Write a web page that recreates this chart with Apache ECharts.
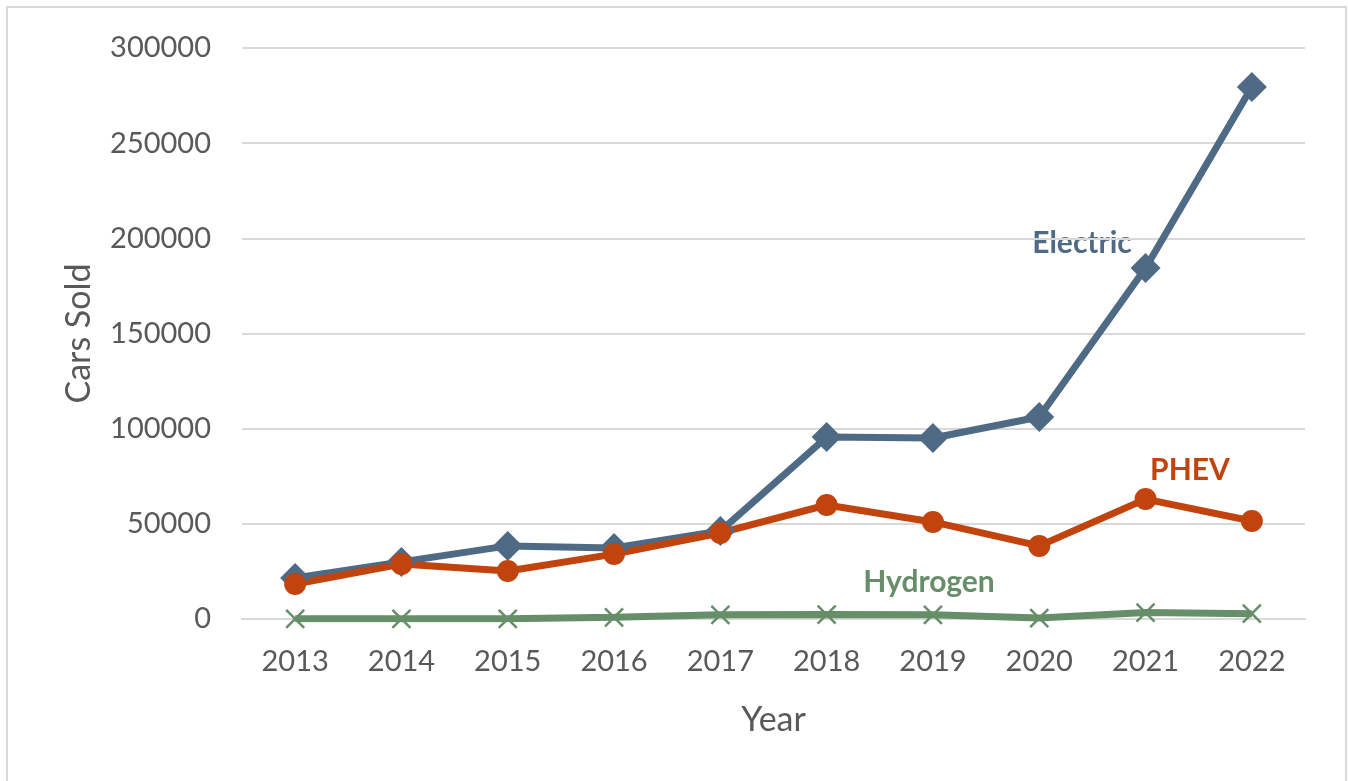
<!DOCTYPE html>
<html>
<head>
<meta charset="utf-8">
<script src="https://cdn.jsdelivr.net/npm/echarts@6/dist/echarts.min.js"></script>
<style>
  html, body { margin: 0; padding: 0; background: #ffffff; overflow: hidden; }
  #chart_main { width: 1348px; height: 781px; }
</style>
</head>
<body>
<div id="chart_main"></div>
<script>
// years on the x axis
var years = ["2013", "2014", "2015", "2016", "2017", "2018", "2019", "2020", "2021", "2022"];
// cars sold per year
var electric = [21500, 30000, 38400, 37300, 46200, 95600, 95100, 106100, 184400, 279500];
var phev = [18400, 28900, 25200, 34100, 45200, 59900, 51000, 38400, 63000, 51500];
var hydrogen = [100, 100, 100, 900, 2200, 2300, 2200, 500, 3400, 2800];

var fontName = "Lato";
var textGray = "#595959";
var gridGray = "#d9d9d9";

var myChart = echarts.init(document.getElementById("chart_main"));
var option = {
  backgroundColor: "#ffffff",
  animation: false,
  grid: { left: 242, right: 43, top: 48, bottom: 162 },
  xAxis: {
    type: "category",
    data: years,
    boundaryGap: true,
    axisLine: { show: true, lineStyle: { color: gridGray, width: 2 } },
    axisTick: { show: false },
    axisLabel: { color: textGray, fontFamily: fontName, fontSize: 29, margin: 28 },
    name: "Year",
    nameLocation: "middle",
    nameGap: 84,
    nameTextStyle: { color: textGray, fontFamily: fontName, fontSize: 34 }
  },
  yAxis: {
    type: "value",
    min: 0,
    max: 300000,
    interval: 50000,
    axisLine: { show: false },
    axisTick: { show: false },
    splitLine: { lineStyle: { color: gridGray, width: 2 } },
    axisLabel: {
      color: textGray, fontFamily: fontName, fontSize: 29, margin: 31,
      formatter: function (v) { return String(v); }
    },
    name: "Cars Sold",
    nameLocation: "middle",
    nameGap: 146,
    nameTextStyle: { color: textGray, fontFamily: fontName, fontSize: 34 }
  },
  series: [
    {
      name: "Electric",
      type: "line",
      data: electric,
      symbol: "diamond",
      symbolSize: 30,
      itemStyle: { color: "#4f6a84" },
      lineStyle: { color: "#4f6a84", width: 7 }
    },
    {
      name: "PHEV",
      type: "line",
      data: phev,
      symbol: "circle",
      symbolSize: 22,
      itemStyle: { color: "#c1440e" },
      lineStyle: { color: "#c1440e", width: 7 }
    },
    {
      name: "Hydrogen",
      type: "line",
      data: hydrogen,
      symbol: "path://M0,0L10,10M10,0L0,10",
      symbolSize: 18,
      itemStyle: { color: "#668e68", borderColor: "#668e68", borderWidth: 2.5 },
      lineStyle: { color: "#668e68", width: 7 }
    }
  ],
  graphic: [
    {
      type: "rect",
      shape: { x: 7, y: 7, width: 1339, height: 800 },
      style: { fill: "none", stroke: gridGray, lineWidth: 2 },
      silent: true
    },
    {
      type: "text", x: 1082, y: 243,
      style: { text: "Electric", fill: "#4f6a84", font: "bold 30px Lato", textAlign: "center", textVerticalAlign: "middle" }
    },
    {
      type: "text", x: 1190, y: 470,
      style: { text: "PHEV", fill: "#c1440e", font: "bold 30px Lato", textAlign: "center", textVerticalAlign: "middle" }
    },
    {
      type: "text", x: 929, y: 582,
      style: { text: "Hydrogen", fill: "#668e68", font: "bold 30px Lato", textAlign: "center", textVerticalAlign: "middle" }
    }
  ]
};
myChart.setOption(option, true);
</script>
</body>
</html>
